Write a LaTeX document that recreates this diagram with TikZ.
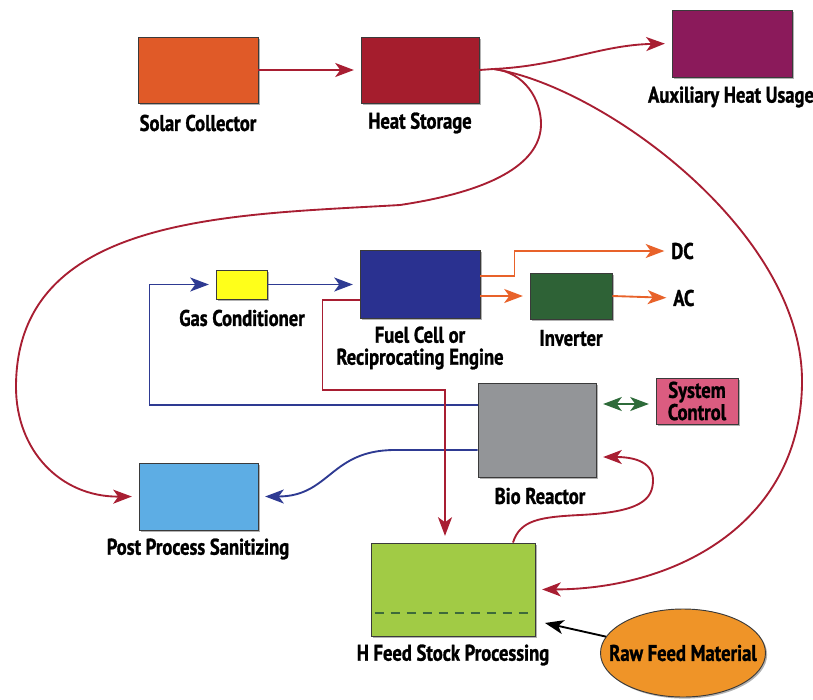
\documentclass[tikz,border=0pt]{standalone}
\usepackage{fontspec}
\setmainfont{PT Sans}[FakeStretch=0.82, BoldFeatures={FakeBold=1.2}]
\usetikzlibrary{arrows.meta,calc,shapes.geometric,shadows}
\definecolor{csolar}{HTML}{E05A28}
\definecolor{cheat}{HTML}{A51D2D}
\definecolor{caux}{HTML}{8B1A5B}
\definecolor{cgas}{HTML}{FFFF1A}
\definecolor{cfuel}{HTML}{2A3190}
\definecolor{cinv}{HTML}{2E6236}
\definecolor{cbio}{HTML}{939598}
\definecolor{csys}{HTML}{DB5C80}
\definecolor{cpost}{HTML}{5DADE4}
\definecolor{cfeed}{HTML}{A1CB45}
\definecolor{craw}{HTML}{EF9428}
\definecolor{cred}{HTML}{A81E32}
\definecolor{cblue}{HTML}{2E3A92}
\definecolor{corange}{HTML}{E8622A}
\definecolor{cgreen}{HTML}{2E6B3A}
\definecolor{boxline}{HTML}{3A3A3A}
\definecolor{cdash}{HTML}{3D6A3A}
\begin{document}
\begin{tikzpicture}[x=0.75pt,y=-0.75pt,
  box/.style 2 args={draw=boxline, line width=0.7pt, minimum width=#1*0.75pt,
    minimum height=#2*0.75pt, inner sep=0pt,
    drop shadow={shadow xshift=1.2pt, shadow yshift=-1.2pt, opacity=0.3, fill=black}},
  lbl/.style={font=\bfseries\fontsize{17}{16.5}\selectfont, inner sep=0pt, align=center, text=black},
  tip/.tip={Stealth[length=14pt,width=10.5pt,inset=3.8pt]},
  arr/.style={-tip, shorten >=5pt},
  dblarr/.style={tip-tip},
  redline/.style={draw=cred, line width=1.4pt},
  blueline/.style={draw=cblue, line width=1.4pt},
  orangeline/.style={draw=corange, line width=1.4pt},
  greenline/.style={draw=cgreen, line width=1.4pt},
  blackline/.style={draw=black, line width=1.4pt}
]
\useasboundingbox (0,0) rectangle (813,699);

% boxes
\node[box={120}{66}, fill=csolar] (solar) at (198,70) {};
\node[box={118}{66}, fill=cheat] (heat) at (420,70) {};
\node[box={120}{67}, fill=caux] (aux) at (732,43.5) {};
\node[box={51}{29}, fill=cgas] (gas) at (241.5,284.5) {};
\node[box={120}{68}, fill=cfuel] (fuel) at (420,284) {};
\node[box={82}{46}, fill=cinv] (inv) at (571,296) {};
\node[box={118}{94}, fill=cbio] (bio) at (537,430) {};
\node[box={82}{46}, fill=csys, lbl, font=\bfseries\fontsize{17}{15}\selectfont] (sys) at (697,401) {System\\Control};
\node[box={119}{67}, fill=cpost] (post) at (198.5,496.5) {};
\node[box={164}{93}, fill=cfeed] (feed) at (453,589.5) {};
\node[ellipse, draw=boxline, line width=0.7pt, fill=craw, minimum width=165*0.75pt,
  minimum height=88*0.75pt, inner sep=0pt,
  drop shadow={shadow xshift=1.2pt, shadow yshift=-1.2pt, opacity=0.3, fill=black}] (raw) at (683,653) {};
\node[lbl] (rawl) at (raw.center) {Raw Feed Material};

% dashed line in feed box
\draw[draw=cdash, line width=1.5pt, dash pattern=on 7pt off 5pt]
  ($(feed.south west)+(4,-23)$) -- ($(feed.south east)+(-1,-23)$);

% labels
\node[lbl] (solarl) at (198,123) {Solar Collector};
\node[lbl] (heatl) at (420,123) {Heat Storage};
\node[lbl] (auxl) at (731,97) {Auxiliary Heat Usage};
\node[lbl] (gasl) at (242,318) {Gas Conditioner};
\node[lbl] (fuell) at (420,348) {Fuel Cell or\\Reciprocating Engine};
\node[lbl] (invl) at (571,338) {Inverter};
\node[lbl, anchor=west] (dc) at (671,251) {DC};
\node[lbl, anchor=west] (ac) at (673,298) {AC};
\node[lbl] (biol) at (540,496) {Bio Reactor};
\node[lbl] (postl) at (198,549) {Post Process Sanitizing};
\node[lbl] (feedl) at (453,655) {H Feed Stock Processing};

% heat connectors
\coordinate (hs) at ($(heat.east)+(14,-1)$);
\draw[redline, arr] (solar.east) -- (heat.west);
\draw[redline] (heat.east) -- (hs);
\draw[redline, arr] (hs) .. controls (560,66) and (600,45) .. (aux.west);
\draw[redline, arr] (hs) .. controls (525,72) and (541,100) .. (541,124)
  .. controls (541,160) and (500,190) .. (400,205)
  .. controls (230,215) and (16,215) .. (16,387)
  .. controls (16,450) and (60,497) .. (post.west);
\draw[redline, arr] (hs) .. controls (600,85) and (802,230) .. (802,381)
  .. controls (802,520) and (680,589) .. (feed.east);

% fuel cell outputs
\draw[orangeline, arr] ($(fuel.east)+(0,-8)$) -- ++(34,0) |- (dc.west);
\draw[orangeline, arr] ($(fuel.east)+(0,12)$) -- (inv.west);
\draw[orangeline, arr] (inv.east) -- (ac.west);

% gas
\draw[blueline, arr] (gas.east) -- (gas.east -| fuel.west);
\draw[blueline, arr] ($(bio.west)+(0,-25)$) -| ($(gas.west)+(-66,0)$) -- (gas.west);
\draw[blueline, arr] ($(bio.west)+(0,20)$) -- (395,450) .. controls (330,450) and (330,496.5) .. (post.east);

% red orthogonal
\draw[redline, arr] ($(fuel.west)+(0,16)$) -- ++(-37,0) -- ++(0,90) -| ($(feed.north)+(-8,0)$);

% feed to bio
\draw[redline, arr] ($(feed.north)+(60,0)$) .. controls (520,520) and (540,517) .. (580,515)
  .. controls (640,512) and (653,500) .. (653,480)
  .. controls (653,460) and (630,457) .. ($(bio.east)+(0,27)$);

% system control
\draw[greenline, dblarr, shorten >=5pt, shorten <=5pt] ($(bio.east)+(0,-26)$) -- ($(sys.west)+(0,3)$);

% raw feed
\draw[blackline, arr] (raw.168) -- ($(feed.east)+(3,32)$);
\end{tikzpicture}
\end{document}
